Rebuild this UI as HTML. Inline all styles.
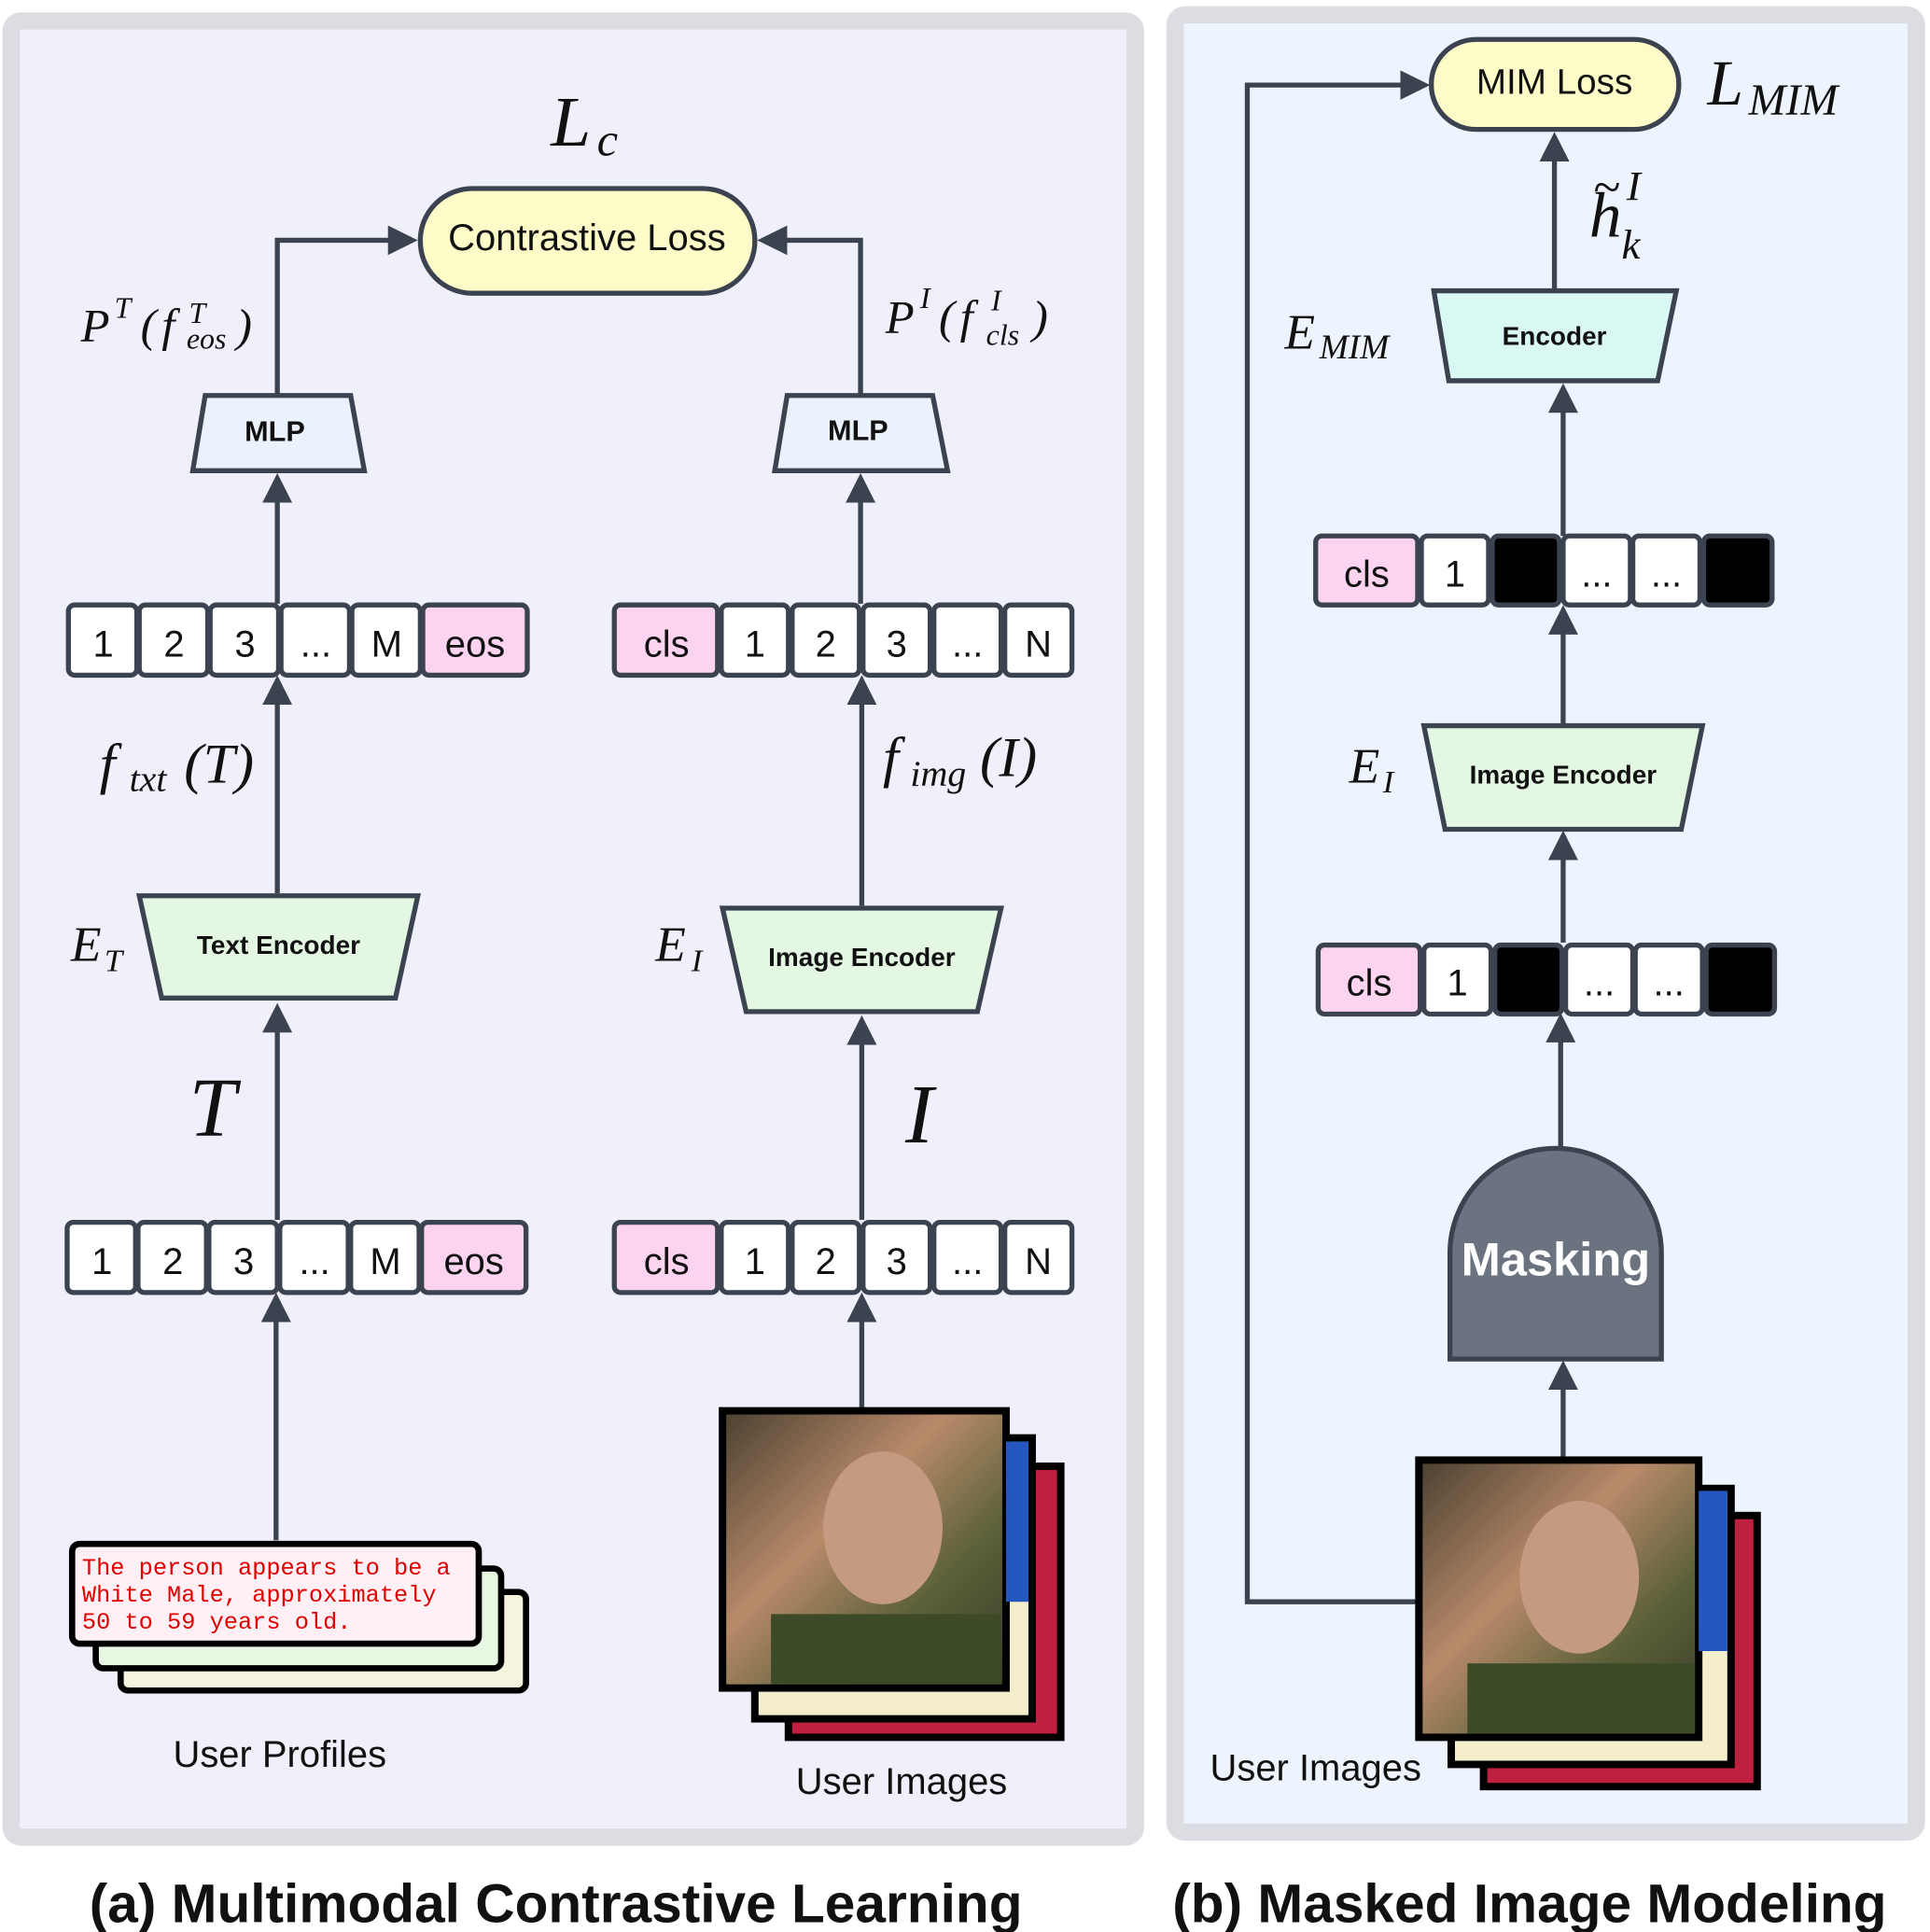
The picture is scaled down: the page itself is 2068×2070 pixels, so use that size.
<!DOCTYPE html>
<html><head><meta charset="utf-8"><style>html,body{margin:0;padding:0;background:#fff}svg{display:block}</style></head><body>
<svg width="2068" height="2070" viewBox="0 0 1552 1568" preserveAspectRatio="none" xmlns="http://www.w3.org/2000/svg" font-family="Liberation Sans, sans-serif">
<defs>
<marker id="a" markerWidth="6" markerHeight="6" refX="5" refY="3" orient="auto" markerUnits="strokeWidth"><path d="M0,0 L6,3 L0,6 z" fill="#3c4350"/></marker>
<linearGradient id="ph" x1="0" y1="0" x2="1" y2="1"><stop offset="0" stop-color="#4a4030"/><stop offset="0.4" stop-color="#b88a6a"/><stop offset="0.7" stop-color="#5a6038"/><stop offset="1" stop-color="#3a3a28"/></linearGradient>
</defs>
<rect x="0" y="0" width="1552" height="1568" fill="#fff"/>
<rect x="9" y="17" width="904" height="1474" fill="#f0f0fb" stroke="#dcdde2" stroke-width="14" rx="8"/>
<rect x="945" y="12" width="596" height="1475" fill="#edf4fd" stroke="#dcdde2" stroke-width="14" rx="8"/>
<g stroke="#3c4350" stroke-width="4" fill="none" marker-end="url(#a)">
<path d="M223,320 V195 H332"/><path d="M692,320 V195 H613"/>
<path d="M223,490 V388"/><path d="M692,490 V388"/>
<path d="M223,725 V552"/><path d="M693,735 V552"/>
<path d="M223,990 V818"/><path d="M693,990 V828"/>
<path d="M222,1250 V1053"/><path d="M693,1143 V1053"/>
<path d="M1250,235 V111"/><path d="M1257,435 V315"/><path d="M1257,588 V495"/><path d="M1257,765 V678"/><path d="M1255,932 V826"/><path d="M1257,1185 V1108"/>
<path d="M1140,1300 H1003 V69 H1146"/>
</g>
<g font-family="Liberation Serif, serif" font-style="italic" fill="#111">
<text x="443" y="118" font-size="58">L</text><text x="480" y="126" font-size="38">c</text>
<text x="65" y="277" font-size="38">P</text><text x="92" y="258" font-size="24">T</text><text x="113" y="277" font-size="38">(</text><text x="130" y="277" font-size="38">f</text><text x="152" y="262" font-size="24">T</text><text x="150" y="283" font-size="24">eos</text><text x="190" y="277" font-size="38">)</text>
<text x="712" y="270" font-size="38">P</text><text x="740" y="250" font-size="24">I</text><text x="755" y="270" font-size="38">(</text><text x="772" y="270" font-size="38">f</text><text x="797" y="252" font-size="24">I</text><text x="793" y="280" font-size="24">cls</text><text x="830" y="270" font-size="38">)</text>
<text x="80" y="635" font-size="46">f</text><text x="104" y="642" font-size="30">txt</text><text x="148" y="635" font-size="46">(T)</text>
<text x="710" y="630" font-size="46">f</text><text x="732" y="638" font-size="30">img</text><text x="788" y="630" font-size="46">(I)</text>
<text x="57" y="780" font-size="40">E</text><text x="84" y="788" font-size="26">T</text>
<text x="527" y="780" font-size="40">E</text><text x="556" y="788" font-size="26">I</text>
<text x="152" y="922" font-size="68">T</text>
<text x="728" y="927" font-size="68">I</text>
<text x="1373" y="85" font-size="52">L</text><text x="1406" y="93" font-size="36">MIM</text>
<text x="1033" y="283" font-size="40">E</text><text x="1061" y="291" font-size="28">MIM</text>
<text x="1085" y="635" font-size="40">E</text><text x="1112" y="643" font-size="26">I</text>
<text x="1278" y="192" font-size="52">h</text><text x="1308" y="162" font-size="34">I</text><text x="1304" y="210" font-size="34">k</text>
<text x="1281" y="165" font-size="40">~</text>
</g>
<rect x="338" y="153" width="269" height="85" rx="42" fill="#fdfbc8" stroke="#3c4350" stroke-width="4"/>
<text x="472" y="203" font-size="30" text-anchor="middle" fill="#111">Contrastive Loss</text>
<rect x="1151" y="32" width="199" height="73" rx="36" fill="#fdfbc8" stroke="#3c4350" stroke-width="4"/>
<text x="1250" y="76" font-size="29" text-anchor="middle" fill="#111">MIM Loss</text>
<g stroke="#3c4350" stroke-width="4">
<path d="M165,321 H282 L293,382 H155 Z" fill="#eaf2fc"/>
<path d="M633,321 H750 L762,382 H623 Z" fill="#eaf2fc"/>
<path d="M112,727 H336 L318,810 H130 Z" fill="#e3f7e3"/>
<path d="M581,737 H805 L786,821 H600 Z" fill="#e3f7e3"/>
<path d="M1153,236 H1348 L1333,309 H1165 Z" fill="#d9f7f3"/>
<path d="M1145,589 H1369 L1352,673 H1162 Z" fill="#e3f7e3"/>
<path d="M1166,1103 V1017 A85,85 0 0 1 1336,1017 V1103 Z" fill="#6b7280"/>
</g>
<g font-weight="bold" text-anchor="middle" fill="#111">
<text x="221" y="358" font-size="23">MLP</text><text x="690" y="357" font-size="23">MLP</text>
<text x="224" y="774" font-size="21">Text Encoder</text><text x="693" y="784" font-size="21">Image Encoder</text>
<text x="1250" y="280" font-size="21">Encoder</text><text x="1257" y="636" font-size="21">Image Encoder</text>
<text x="1251" y="1035" font-size="38" fill="#fff">Masking</text>
</g>
<g stroke="#3c4350" stroke-width="4" font-size="30" text-anchor="middle">
<g transform="translate(0,491)">
<rect x="55" y="0" width="55" height="57" rx="5" fill="#fff"/><rect x="112" y="0" width="55" height="57" rx="5" fill="#fff"/><rect x="169" y="0" width="55" height="57" rx="5" fill="#fff"/><rect x="226" y="0" width="55" height="57" rx="5" fill="#fff"/><rect x="283" y="0" width="55" height="57" rx="5" fill="#fff"/><rect x="340" y="0" width="84" height="57" rx="5" fill="#fcd4ef"/>
<rect x="494" y="0" width="83" height="57" rx="5" fill="#fcd4ef"/><rect x="580" y="0" width="54" height="57" rx="5" fill="#fff"/><rect x="637" y="0" width="54" height="57" rx="5" fill="#fff"/><rect x="694" y="0" width="54" height="57" rx="5" fill="#fff"/><rect x="751" y="0" width="54" height="57" rx="5" fill="#fff"/><rect x="808" y="0" width="54" height="57" rx="5" fill="#fff"/>
<g stroke="none" fill="#111"><text x="83" y="42">1</text><text x="140" y="42">2</text><text x="197" y="42">3</text><text x="254" y="42">...</text><text x="311" y="42">M</text><text x="382" y="42">eos</text><text x="536" y="42">cls</text><text x="607" y="42">1</text><text x="664" y="42">2</text><text x="721" y="42">3</text><text x="778" y="42">...</text><text x="835" y="42">N</text></g>
</g>
<g transform="translate(-1,992)">
<rect x="55" y="0" width="55" height="57" rx="5" fill="#fff"/><rect x="112" y="0" width="55" height="57" rx="5" fill="#fff"/><rect x="169" y="0" width="55" height="57" rx="5" fill="#fff"/><rect x="226" y="0" width="55" height="57" rx="5" fill="#fff"/><rect x="283" y="0" width="55" height="57" rx="5" fill="#fff"/><rect x="340" y="0" width="84" height="57" rx="5" fill="#fcd4ef"/>
<g stroke="none" fill="#111"><text x="83" y="42">1</text><text x="140" y="42">2</text><text x="197" y="42">3</text><text x="254" y="42">...</text><text x="311" y="42">M</text><text x="382" y="42">eos</text></g>
</g>
<g transform="translate(0,992)">
<rect x="494" y="0" width="83" height="57" rx="5" fill="#fcd4ef"/><rect x="580" y="0" width="54" height="57" rx="5" fill="#fff"/><rect x="637" y="0" width="54" height="57" rx="5" fill="#fff"/><rect x="694" y="0" width="54" height="57" rx="5" fill="#fff"/><rect x="751" y="0" width="54" height="57" rx="5" fill="#fff"/><rect x="808" y="0" width="54" height="57" rx="5" fill="#fff"/>
<g stroke="none" fill="#111"><text x="536" y="42">cls</text><text x="607" y="42">1</text><text x="664" y="42">2</text><text x="721" y="42">3</text><text x="778" y="42">...</text><text x="835" y="42">N</text></g>
</g>
<g transform="translate(0,435)">
<rect x="1058" y="0" width="82" height="56" rx="5" fill="#fcd4ef"/><rect x="1143" y="0" width="54" height="56" rx="5" fill="#fff"/><rect x="1200" y="0" width="54" height="56" rx="5" fill="#000"/><rect x="1257" y="0" width="54" height="56" rx="5" fill="#fff"/><rect x="1313" y="0" width="54" height="56" rx="5" fill="#fff"/><rect x="1370" y="0" width="55" height="56" rx="5" fill="#000"/>
<g stroke="none" fill="#111"><text x="1099" y="41">cls</text><text x="1170" y="41">1</text><text x="1284" y="41">...</text><text x="1340" y="41">...</text></g>
</g>
<g transform="translate(2,767)">
<rect x="1058" y="0" width="82" height="56" rx="5" fill="#fcd4ef"/><rect x="1143" y="0" width="54" height="56" rx="5" fill="#fff"/><rect x="1200" y="0" width="54" height="56" rx="5" fill="#000"/><rect x="1257" y="0" width="54" height="56" rx="5" fill="#fff"/><rect x="1313" y="0" width="54" height="56" rx="5" fill="#fff"/><rect x="1370" y="0" width="55" height="56" rx="5" fill="#000"/>
<g stroke="none" fill="#111"><text x="1099" y="41">cls</text><text x="1170" y="41">1</text><text x="1284" y="41">...</text><text x="1340" y="41">...</text></g>
</g>
</g>
<g stroke="#000" stroke-width="5">
<rect x="97" y="1292" width="326" height="80" rx="6" fill="#f7f4dd"/>
<rect x="77" y="1273" width="326" height="81" rx="6" fill="#e8f7e2"/>
<rect x="58" y="1253" width="327" height="81" rx="6" fill="#fff0f6"/>
</g>
<g font-family="Liberation Mono, monospace" font-size="19" fill="#e00000">
<text x="66" y="1278">The person appears to be a</text><text x="66" y="1300">White Male, approximately</text><text x="66" y="1322">50 to 59 years old.</text>
</g>
<g stroke="#000" stroke-width="6">
<rect x="634" y="1190" width="219" height="220" fill="#c02040"/>
<rect x="607" y="1167" width="223" height="228" fill="#f4eecc"/>
<rect x="581" y="1145" width="228" height="225" fill="url(#ph)"/>
<rect x="1193" y="1230" width="220" height="220" fill="#c02040"/>
<rect x="1167" y="1208" width="225" height="224" fill="#f4eecc"/>
<rect x="1141" y="1185" width="225" height="225" fill="url(#ph)"/>
</g>
<g fill="#c49a80"><ellipse cx="710" cy="1240" rx="48" ry="62"/><ellipse cx="1270" cy="1280" rx="48" ry="62"/></g>
<g fill="#3c4a28"><rect x="620" y="1310" width="185" height="57"/><rect x="1180" y="1350" width="183" height="57"/></g>
<rect x="809" y="1170" width="18" height="130" fill="#2458c0"/>
<rect x="1366" y="1210" width="23" height="130" fill="#2458c0"/>
<g font-size="30" text-anchor="middle" fill="#111">
<text x="225" y="1434">User Profiles</text><text x="725" y="1456">User Images</text><text x="1058" y="1445">User Images</text>
</g>
<g font-size="44" font-weight="bold" text-anchor="middle" fill="#111">
<text x="447" y="1560">(a) Multimodal Contrastive Learning</text>
<text x="1230" y="1560">(b) Masked Image Modeling</text>
</g>
</svg>
</body></html>
